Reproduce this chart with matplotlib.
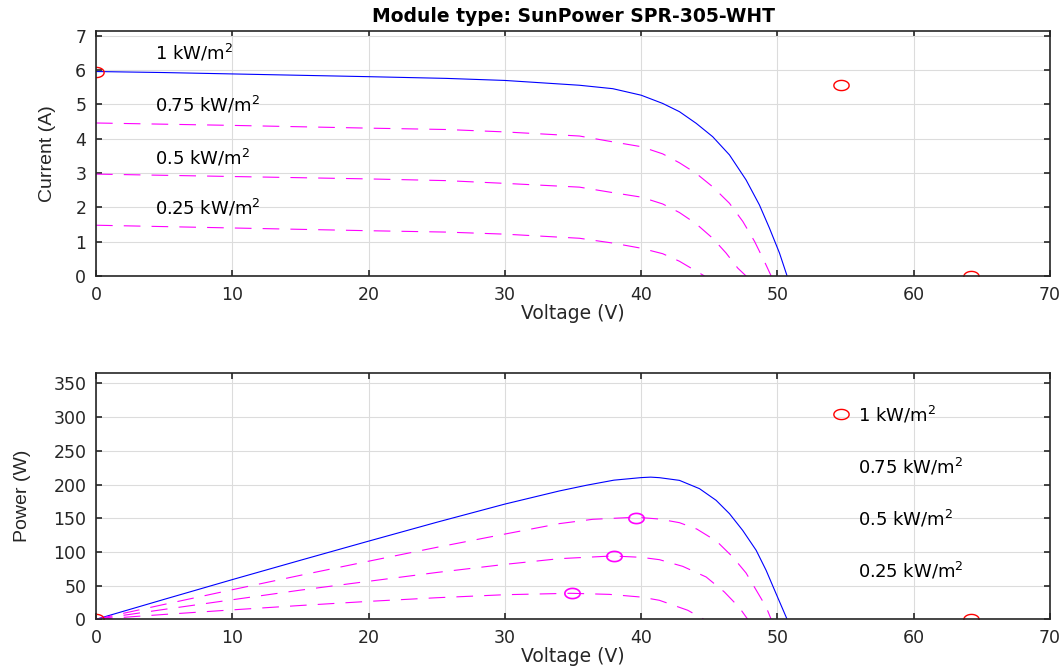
import numpy as np
import matplotlib
matplotlib.use("Agg")
import matplotlib.pyplot as plt
from matplotlib.path import Path

# I-V curves (voltage in V, current in A)
v_1000 = [0, 5, 10, 15, 20, 25.7, 30, 35.47, 37.92, 40, 41.58, 42.81, 44.04, 45.25, 46.48, 47.7, 48.68, 49.41, 50.15, 50.71]
i_1000 = [5.96, 5.93, 5.89, 5.85, 5.81, 5.76, 5.70, 5.56, 5.46, 5.27, 5.03, 4.79, 4.45, 4.06, 3.53, 2.80, 2.07, 1.40, 0.67, 0.0]

v_750 = [0, 10, 20, 25.7, 30, 35.47, 37.92, 40, 41.58, 42.81, 44.04, 45.25, 46.48, 47.46, 48.32, 49.05, 49.54]
i_750 = [4.46, 4.39, 4.31, 4.27, 4.20, 4.08, 3.91, 3.77, 3.56, 3.30, 2.99, 2.60, 2.12, 1.59, 1.01, 0.42, 0.0]

v_500 = [0, 10, 20, 25.7, 30, 35.47, 37.92, 40, 41.58, 42.81, 44.04, 45.25, 46.23, 47.09, 47.7]
i_500 = [2.97, 2.90, 2.83, 2.78, 2.70, 2.59, 2.43, 2.30, 2.10, 1.85, 1.52, 1.10, 0.67, 0.23, 0.0]

v_250 = [0, 10, 20, 25.7, 30, 35.47, 37.92, 40, 41.58, 42.81, 43.79, 44.65]
i_250 = [1.48, 1.40, 1.32, 1.28, 1.22, 1.10, 0.96, 0.81, 0.65, 0.43, 0.20, 0.0]

# P-V curves (voltage in V, power in W)
pv_1000 = [0, 5, 10, 15, 20, 25, 30, 34, 36, 38, 40, 40.7, 41.34, 42.81, 44.28, 45.5, 46.48, 47.45, 48.44, 49.17, 49.9, 50.71]
pp_1000 = [0, 29.6, 58.9, 87.6, 116, 144, 171, 190.5, 199, 206.5, 210.3, 211, 210.2, 206.2, 193.9, 176.6, 156.8, 132, 102.4, 72.7, 38.1, 0]

pv_750 = [0, 5, 10, 15, 20, 25, 30, 34, 36.45, 39.63, 41.34, 42.81, 44.08, 45.55, 46.72, 47.7, 48.48, 49.17, 49.54]
pp_750 = [0, 22.1, 43.9, 65.3, 86.2, 106.8, 126.5, 142, 148.4, 151.5, 148.8, 143.4, 134, 115.7, 92.5, 68.7, 42, 18.3, 0]

pv_500 = [0, 5, 10, 15, 20, 25, 30, 34, 37.9, 40, 41.34, 43.05, 44.77, 46.11, 47.21, 47.82]
pp_500 = [0, 14.7, 29, 43.3, 56.4, 69.5, 81.5, 90, 94, 92, 88.5, 78.6, 62.8, 40.5, 17.3, 0]

pv_250 = [0, 5, 10, 15, 20, 25, 30, 34.84, 37.67, 40, 41.34, 43.42, 44.6]
pp_250 = [0, 7.2, 14, 20.5, 26.6, 32, 36.5, 38.6, 37, 33, 28.2, 13.4, 0]

# datasheet points (red circles)
spec_v = [0, 54.7, 64.2]
spec_i = [5.96, 5.58, 0]
spec_p = [0, 305.2, 0]

# maximum power points of the reduced irradiance curves
mpp_v = [39.6, 38.0, 34.9]
mpp_p = [151, 94, 39]

labels = ["1 kW/m$^2$", "0.75 kW/m$^2$", "0.5 kW/m$^2$", "0.25 kW/m$^2$"]
label_i = [6.5, 5.0, 3.45, 1.98]
label_p = [304, 226, 149, 72]

plt.rcParams["font.family"] = ["DejaVu Sans"]
plt.rcParams["mathtext.fontset"] = "dejavusans"
plt.rcParams["lines.scale_dashes"] = False

# the source image is stretched sideways, so circles look like flat ellipses
t = np.linspace(0, 2 * np.pi, 60)
oval = Path(np.column_stack([1.5 * np.cos(t), np.sin(t)]))

fig = plt.figure(figsize=(10.64, 6.70), dpi=100)
ax1 = fig.add_axes([96 / 1064, 1 - 276 / 670, 954 / 1064, 245.3 / 670])
ax2 = fig.add_axes([96 / 1064, 1 - 619.3 / 670, 954 / 1064, 246.6 / 670])

dash = (0, (12, 8))
blue = "#0000ff"
mag = "#ff00ff"

ax1.plot(v_1000, i_1000, color=blue, linewidth=0.8)
ax1.plot(v_750, i_750, color=mag, linestyle=dash, linewidth=0.8)
ax1.plot(v_500, i_500, color=mag, linestyle=dash, linewidth=0.8)
ax1.plot(v_250, i_250, color=mag, linestyle=dash, linewidth=0.8)

ax2.plot(pv_1000, pp_1000, color=blue, linewidth=0.8)
ax2.plot(pv_750, pp_750, color=mag, linestyle=dash, linewidth=0.8)
ax2.plot(pv_500, pp_500, color=mag, linestyle=dash, linewidth=0.8)
ax2.plot(pv_250, pp_250, color=mag, linestyle=dash, linewidth=0.8)

ax1.plot(spec_v, spec_i, linestyle="none", marker=oval, markersize=11,
         markerfacecolor="none", markeredgecolor="red", markeredgewidth=1.0)
ax2.plot(spec_v, spec_p, linestyle="none", marker=oval, markersize=11,
         markerfacecolor="none", markeredgecolor="red", markeredgewidth=1.0)
ax2.plot(mpp_v, mpp_p, linestyle="none", marker=oval, markersize=11,
         markerfacecolor="none", markeredgecolor=mag, markeredgewidth=1.2)

for lab, yi in zip(labels, label_i):
    ax1.text(4.35, yi, lab, fontsize=13, va="center", ha="left", color="black")
for lab, yp in zip(labels, label_p):
    ax2.text(55.9, yp, lab, fontsize=13, va="center", ha="left", color="black")

ax1.set_xlim(0, 70)
ax1.set_ylim(0, 7.15)
ax1.set_yticks(range(0, 8))
ax2.set_xlim(0, 70)
ax2.set_ylim(0, 366)
ax2.set_yticks(range(0, 351, 50))

for ax in (ax1, ax2):
    ax.set_xticks(range(0, 71, 10))
    ax.grid(True, color="#dcdcdc", linewidth=0.8)
    ax.set_axisbelow(True)
    ax.tick_params(direction="in", length=4, width=1.2, top=True, right=True,
                   labelsize=12.5, colors="#262626", pad=7)
    for s in ax.spines.values():
        s.set_color("#262626")
        s.set_linewidth(1.2)
    ax.set_xlabel("Voltage (V)", fontsize=13.5, color="#262626", labelpad=0)

ax1.set_ylabel("Current (A)", fontsize=14, color="#262626",
               family=["Liberation Sans Narrow", "Liberation Sans"])
ax2.set_ylabel("Power (W)", fontsize=14, color="#262626",
               family=["Liberation Sans Narrow", "Liberation Sans"])
ax1.yaxis.set_label_coords(-0.042, 0.5)
ax2.yaxis.set_label_coords(-0.068, 0.5)

ax1.set_title("Module type: SunPower SPR-305-WHT", fontsize=13.5,
              fontweight="bold", pad=6)

fig.savefig("out.png", dpi=100)
